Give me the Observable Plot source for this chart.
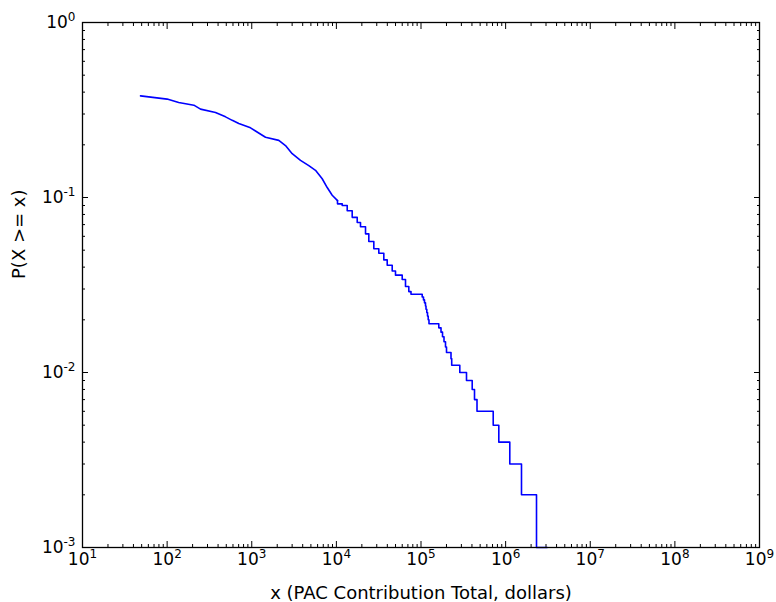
<!DOCTYPE html>
<html>
<head>
<meta charset="utf-8">
<script src="https://cdn.jsdelivr.net/npm/d3@7"></script>
<script src="https://cdn.jsdelivr.net/npm/@observablehq/plot@0.6"></script>
<style>
  html, body { margin: 0; padding: 0; background: #fff; }
  #chart svg { display: block; }
</style>
</head>
<body>
<div id="chart"></div>
<script>
// Smooth upper part of the complementary CDF
const headX = [48.5, 100, 137, 207, 248, 373, 490, 588, 703, 967, 1107, 1454, 2088, 2504, 3006, 3768, 4723, 5666, 6800, 7791, 8926, 10310];
const headP = [0.381, 0.365, 0.349, 0.337, 0.320, 0.306, 0.289, 0.276, 0.265, 0.250, 0.240, 0.221, 0.212, 0.198, 0.178, 0.163, 0.152, 0.143, 0.128, 0.114, 0.103, 0.096];

// Stepped tail of the complementary CDF
const tailX = [10310, 11720, 13430, 15380, 17630, 19280, 22100, 24170, 27700, 31730, 36360, 39880, 45680, 49960, 59980, 65590, 71760, 76170,
  103300, 107000, 110000, 113000, 114600, 117100, 119400, 121700, 124300, 162300, 172400, 179600, 187000, 194800, 200200, 226200, 230600,
  287400, 344900, 402800, 428800, 459000, 713400, 830700, 1120000, 1540000, 2317000, 3099000];
const tailP = [0.096, 0.092, 0.090, 0.084, 0.077, 0.072, 0.068, 0.062, 0.056, 0.051, 0.048, 0.044, 0.041, 0.038, 0.036, 0.034, 0.031, 0.029,
  0.028, 0.027, 0.026, 0.025, 0.024, 0.023, 0.022, 0.021, 0.020, 0.019, 0.018, 0.017, 0.016, 0.015, 0.014, 0.013, 0.012,
  0.011, 0.010, 0.009, 0.008, 0.007, 0.006, 0.005, 0.004, 0.003, 0.002, 0.001];

// Tick exponents
const xTickExponents = [1, 2, 3, 4, 5, 6, 7, 8, 9];
const yTickExponents = [-3, -2, -1, 0];
const minorMultipliers = [2, 3, 4, 5, 6, 7, 8, 9];

const xLabel = "x (PAC Contribution Total, dollars)";
const yLabel = "P(X >= x)";

const head = headX.map((x, i) => ({x, p: headP[i]}));
const tail = tailX.map((x, i) => ({x, p: tailP[i]}));

const xMajor = xTickExponents.map(e => Math.pow(10, e));
const yMajor = yTickExponents.map(e => Math.pow(10, e));
const xMinor = xTickExponents.slice(0, -1).flatMap(e => minorMultipliers.map(m => m * Math.pow(10, e)));
const yMinor = yTickExponents.slice(0, -1).flatMap(e => minorMultipliers.map(m => m * Math.pow(10, e)));

const fmt = d => "10^" + Math.round(Math.log10(d));
const blank = () => "";

const font = "DejaVu Sans, Bitstream Vera Sans, sans-serif";
const tickStyle = {stroke: "black", strokeWidth: 1, tickFormat: blank, label: null};

const chart = Plot.plot({
  width: 776,
  height: 602,
  marginLeft: 82,
  marginRight: 17,
  marginTop: 22,
  marginBottom: 55,
  style: {fontFamily: font, background: "#fff", color: "#000"},
  x: {type: "log", domain: [10, 1e9]},
  y: {type: "log", domain: [1e-3, 1]},
  marks: [
    // inward ticks on all sides
    Plot.axisX(xMajor, {anchor: "bottom", tickSize: -6, ...tickStyle}),
    Plot.axisX(xMinor, {anchor: "bottom", tickSize: -3, ...tickStyle}),
    Plot.axisX(xMajor, {anchor: "top", tickSize: -6, ...tickStyle}),
    Plot.axisX(xMinor, {anchor: "top", tickSize: -3, ...tickStyle}),
    Plot.axisY(yMajor, {anchor: "left", tickSize: -6, ...tickStyle}),
    Plot.axisY(yMinor, {anchor: "left", tickSize: -3, ...tickStyle}),
    Plot.axisY(yMajor, {anchor: "right", tickSize: -6, ...tickStyle}),
    Plot.axisY(yMinor, {anchor: "right", tickSize: -3, ...tickStyle}),
    // tick labels
    Plot.axisX(xMajor, {anchor: "bottom", tickSize: 0, tickPadding: 5, tickFormat: fmt, fontSize: 17, fill: "black", label: null}),
    Plot.axisY(yMajor, {anchor: "left", tickSize: 0, tickPadding: 7, tickFormat: fmt, fontSize: 17, fill: "black", label: null}),
    // data
    Plot.line(head, {x: "x", y: "p", stroke: "#0000ff", strokeWidth: 1.6, curve: "linear"}),
    Plot.line(tail, {x: "x", y: "p", stroke: "#0000ff", strokeWidth: 1.6, curve: "step-before"}),
    Plot.frame({stroke: "black", strokeWidth: 1.3}),
    // axis titles
    Plot.text([xLabel], {text: d => d, frameAnchor: "bottom", dy: 46, fontSize: 18, lineAnchor: "middle", fill: "black"}),
    Plot.text([yLabel], {text: d => d, frameAnchor: "left", dx: -63, dy: -6, rotate: -90, fontSize: 18, lineAnchor: "middle", fill: "black"})
  ]
});

// Render "10^e" tick labels with a real superscript
chart.querySelectorAll("text").forEach(t => {
  const m = /^10\^(-?\d+)$/.exec(t.textContent);
  if (!m) return;
  const target = t.querySelector("tspan") || t;
  target.textContent = "10";
  const sup = document.createElementNS("http://www.w3.org/2000/svg", "tspan");
  sup.setAttribute("dy", "-7");
  sup.setAttribute("font-size", "12");
  sup.textContent = m[1];
  target.appendChild(sup);
});

document.getElementById("chart").appendChild(chart);
</script>
</body>
</html>
